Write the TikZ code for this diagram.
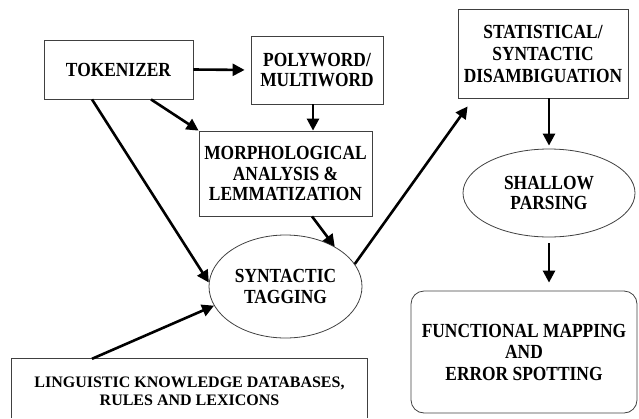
\documentclass[tikz,border=0pt]{standalone}
\usepackage{fontspec}
\setmainfont{Liberation Serif}
\newfontfamily\lblfont[FakeStretch=0.87]{Liberation Serif}
\usetikzlibrary{arrows.meta,shapes.geometric}
\begin{document}
\begin{tikzpicture}[x=1pt,y=-1pt,
  lbl/.style={font=\lblfont\fontsize{20}{20.5}\selectfont\bfseries, align=center, inner sep=0pt},
  boxed/.style={lbl, draw=black!75, line width=0.8pt, rectangle},
  oval/.style={lbl, draw=black!75, line width=0.8pt, ellipse},
  arr/.style={line width=2.6pt, -{Triangle[length=12pt,width=12pt]}}]
\useasboundingbox (0,0) rectangle (639,418);
\node[boxed, minimum width=149pt, minimum height=59pt] (tok) at (118.5,69.5) {TOKENIZER};
\node[boxed, minimum width=132pt, minimum height=68pt] (poly) at (317,70) {POLYWORD/\\MULTIWORD};
\node[boxed, minimum width=173pt, minimum height=85pt] (morph) at (285.5,173.5) {MORPHOLOGICAL\\ANALYSIS \&\\LEMMATIZATION};
\node[oval, font=\lblfont\fontsize{20}{21.5}\selectfont\bfseries, minimum width=153pt, minimum height=103pt] (tag) at (285.5,286.5) {SYNTACTIC\\TAGGING};
\node[boxed, font=\lblfont\fontsize{20}{22}\selectfont\bfseries, minimum width=170pt, minimum height=89pt] (stat) at (543,53.5) {STATISTICAL/\\SYNTACTIC\\DISAMBIGUATION};
\node[oval, minimum width=172pt, minimum height=88pt] (shallow) at (549,193) {SHALLOW\\PARSING};
\node[boxed, font=\lblfont\fontsize{20}{21.5}\selectfont\bfseries, rounded corners=13pt, minimum width=226pt, minimum height=122pt] (func) at (524,352) {FUNCTIONAL MAPPING\\AND\\ERROR SPOTTING};
\node[lbl, font=\fontsize{16}{18}\selectfont\bfseries, minimum width=355pt, minimum height=64pt] (ling) at (189.5,391) {LINGUISTIC KNOWLEDGE DATABASES,\\RULES AND LEXICONS};
\coordinate (bottom) at (0,418);
\draw[draw=black!75, line width=0.8pt] (ling.north west |- bottom) -- (ling.north west) -- (ling.north east) -- (ling.north east |- bottom);
\draw[arr, shorten >=6pt] (tok.east) -- (poly.west);
\draw[arr] ([xshift=-4pt]poly.south) -- ([xshift=-4pt]poly.south |- morph.north);
\draw[arr] ([xshift=32.5pt]tok.south) -- (morph.north west);
\draw[arr] ([xshift=-26.5pt]tok.south) -- (tag.177);
\draw[arr] ([xshift=26.5pt]morph.south) -- (tag.39);
\draw[arr] (tag.18) -- ([xshift=10pt,yshift=-8pt]stat.south west);
\draw[arr] ([xshift=-97.5pt]ling.north) -- (tag.195);
\draw[arr, shorten >=3pt] (stat.south -| shallow.north) -- (shallow.north);
\draw[arr, shorten <=6pt, shorten >=8pt] (shallow.south) -- (shallow.south |- func.north);
\end{tikzpicture}
\end{document}
